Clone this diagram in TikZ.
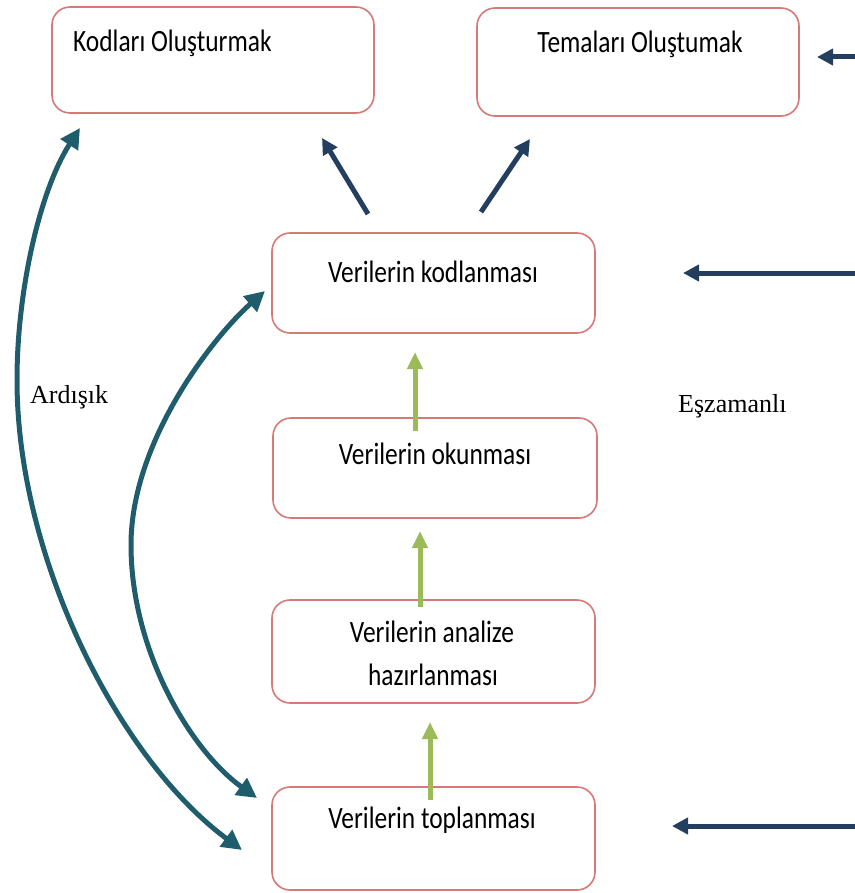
\documentclass[tikz,border=0pt]{standalone}
\usepackage{fontspec}
\setmainfont{Liberation Serif}
\newfontfamily\boxfont{Carlito}[FakeStretch=0.82]
\usetikzlibrary{arrows.meta}
\definecolor{boxline}{RGB}{214,122,120}
\definecolor{navyarrow}{RGB}{36,62,96}
\definecolor{tealarrow}{RGB}{31,93,108}
\definecolor{greenarrow}{RGB}{155,187,89}
\tikzset{
  stagebox/.style={draw=boxline, line width=1.6pt, rounded corners=18pt,
    fill=white, inner sep=0pt},
  boxtext/.style={font=\boxfont\fontsize{31}{40}\selectfont, inner sep=0pt, anchor=base},
  sidetext/.style={font=\fontsize{26}{30}\selectfont, inner sep=0pt, anchor=base west},
  navy/.style={draw=navyarrow, line width=5pt,
    -{Triangle[length=16pt,width=16pt]}},
  flow/.style={draw=greenarrow, line width=5pt,
    -{Triangle[length=17pt,width=15pt]}},
  loop/.style={draw=tealarrow, line width=5pt,
    {Triangle[length=20pt,width=20pt]}-{Triangle[length=20pt,width=20pt]}},
}
\begin{document}
\begin{tikzpicture}[x=1pt, y=-1pt]
  \useasboundingbox (0,0) rectangle (854,893);

  % stage boxes
  \node[stagebox, minimum width=322pt, minimum height=106pt] (kodlar) at (213,60) {};
  \node[stagebox, minimum width=322pt, minimum height=108pt] (temalar) at (638,62) {};
  \node[stagebox, minimum width=323pt, minimum height=100pt] (kodlama) at (433.5,283) {};
  \node[stagebox, minimum width=324pt, minimum height=100pt] (okuma) at (435,468) {};
  \node[stagebox, minimum width=323pt, minimum height=103pt] (analiz) at (433.5,651.5) {};
  \node[stagebox, minimum width=323pt, minimum height=103pt] (toplama) at (433.5,838.5) {};

  % box captions
  \node[boxtext, anchor=base west] (tkodlar) at (73,52) {Kodları Oluşturmak};
  \node[boxtext] (ttemalar) at (640,53) {Temaları Oluştumak};
  \node[boxtext] (tkodlama) at (433,282) {Verilerin kodlanması};
  \node[boxtext] (tokuma) at (435,464) {Verilerin okunması};
  \node[boxtext] (tanaliz1) at (432,642) {Verilerin analize};
  \node[boxtext] (tanaliz2) at (433,685) {hazırlanması};
  \node[boxtext] (ttoplama) at (432,828) {Verilerin toplanması};

  % side labels
  \node[sidetext] (ardisik) at (30,403) {Ardışık};
  \node[sidetext] (eszamanli) at (678,412) {Eşzamanlı};

  % free ends of the navy arrows
  \coordinate (n1s) at (368,214);  \coordinate (n1e) at (322,138);
  \coordinate (n2s) at (481,212);  \coordinate (n2e) at (530,139);
  \coordinate (r1s) at (856,57);   \coordinate (r1e) at (817,57);
  \coordinate (r2s) at (856,273);  \coordinate (r2e) at (683,273);
  \coordinate (r3s) at (856,826);  \coordinate (r3e) at (672,826);

  \draw[navy] (n1s) -- (n1e);
  \draw[navy] (n2s) -- (n2e);
  \draw[navy] (r1s) -- (r1e);
  \draw[navy] (r2s) -- (r2e);
  \draw[navy] (r3s) -- (r3e);

  % upward flow between stages
  \coordinate (g1s) at (415,431);  \coordinate (g1e) at (415,352);
  \coordinate (g2s) at (420,607);  \coordinate (g2e) at (420,531);
  \coordinate (g3s) at (430,800);  \coordinate (g3e) at (430,722);
  \draw[flow] (g1s) -- (g1e);
  \draw[flow] (g2s) -- (g2e);
  \draw[flow] (g3s) -- (g3e);

  % sequential loops on the left
  \coordinate (a1) at (80,128);   \coordinate (a2) at (242,850);
  \coordinate (b1) at (265,291);  \coordinate (b2) at (257,798);
  \draw[loop] (a1) .. controls (40,190) and (17,290) .. (17,380)
                   .. controls (17,560) and (120,760) .. (a2);
  \draw[loop] (b1) .. controls (215,335) and (131,440) .. (131,545)
                   .. controls (131,650) and (190,750) .. (b2);
\end{tikzpicture}
\end{document}
